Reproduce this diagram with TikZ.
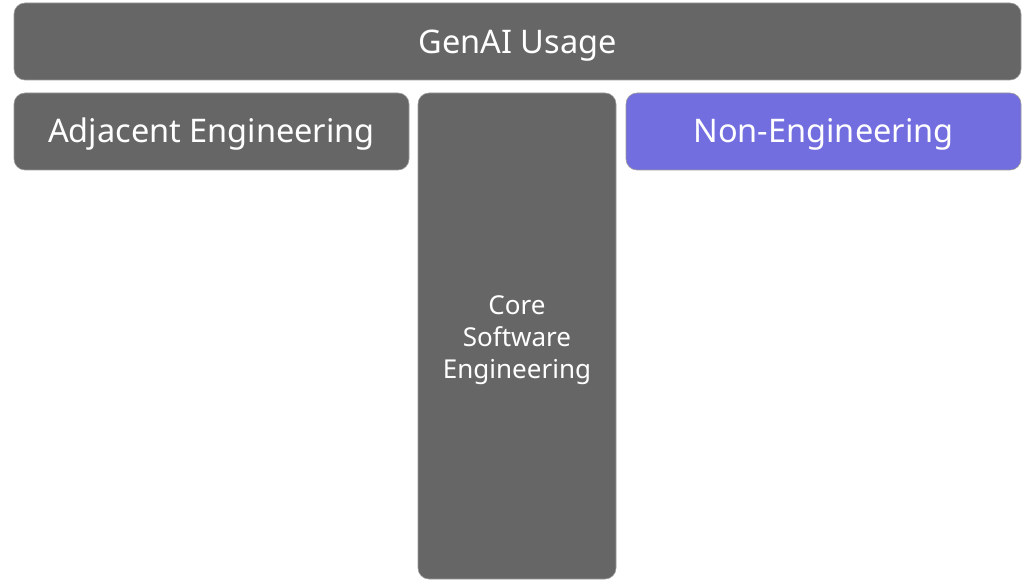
\documentclass[tikz,border=0pt]{standalone}
\usepackage{fontspec}
\setmainfont{Noto Sans}
\definecolor{boxgray}{HTML}{666666}
\definecolor{boxpurple}{HTML}{736EE0}
\definecolor{edge}{HTML}{9A9A9A}
\begin{document}
\begin{tikzpicture}[x=1pt,y=-1pt,
  blk/.style={draw=edge,line width=0.6pt,rounded corners=11pt},
  bigtxt/.style={font=\fontsize{32.5}{38}\selectfont,text=white,inner sep=0pt,anchor=base},
  smalltxt/.style={font=\fontsize{26}{32}\selectfont,text=white,inner sep=0pt,align=center,anchor=base}]
\useasboundingbox (0,0) rectangle (1022,580);
\filldraw[blk,fill=boxgray] (14,3) rectangle (1021,80);
\node[bigtxt] (genai) at (517.5,54) {GenAI Usage};
\filldraw[blk,fill=boxgray] (14,93) rectangle (409,170);
\node[bigtxt] (adj) at (211.5,143) {Adjacent Engineering};
\filldraw[blk,fill=boxgray] (418,93) rectangle (616,579);
\node[smalltxt] (core) at (517,378) {Core\\Software\\Engineering};
\filldraw[blk,fill=boxpurple] (626,93) rectangle (1021,170);
\node[bigtxt] (non) at (823.5,143) {Non-Engineering};
\end{tikzpicture}
\end{document}
